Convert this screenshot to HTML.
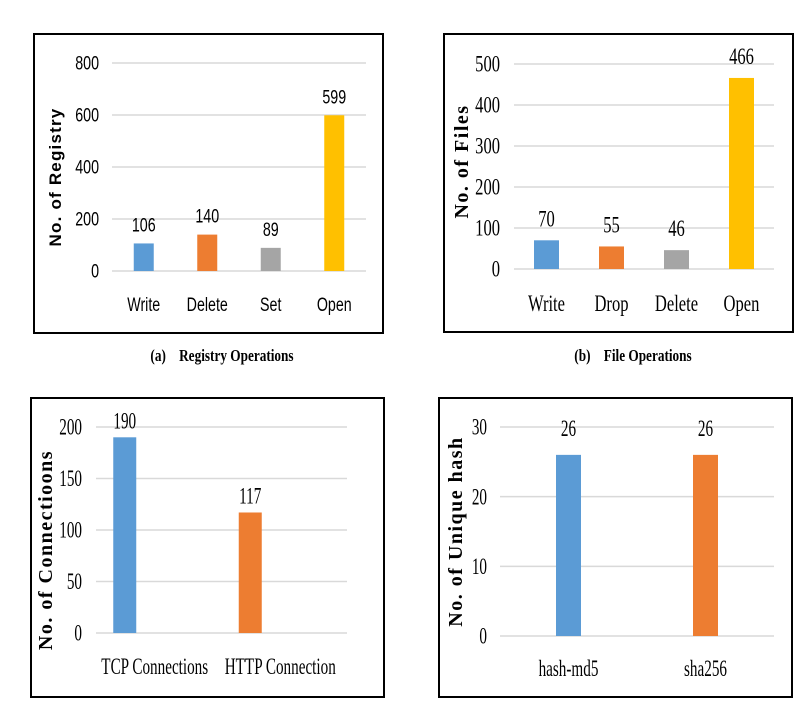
<!DOCTYPE html>
<html><head><meta charset="utf-8"><style>
html,body{margin:0;padding:0;background:#fff;}
svg{display:block;}
</style></head><body>
<svg id="root" width="802" height="705" viewBox="0 0 802 705" xmlns="http://www.w3.org/2000/svg">
<rect x="34" y="34" width="349" height="299" fill="#fff" stroke="#000" stroke-width="2"/>
<rect x="444" y="34" width="349" height="298" fill="#fff" stroke="#000" stroke-width="2"/>
<rect x="31" y="398" width="353" height="299" fill="#fff" stroke="#000" stroke-width="2"/>
<rect x="439" y="398" width="353" height="299" fill="#fff" stroke="#000" stroke-width="2"/>
<text x="222" y="361" text-anchor="middle" font-family="Liberation Serif, serif" font-weight="bold" font-size="17" transform="translate(222,0) scale(0.78,1) translate(-222,0)">(a)&#160;&#160;&#160; Registry Operations</text>
<text x="633" y="361" text-anchor="middle" font-family="Liberation Serif, serif" font-weight="bold" font-size="17" transform="translate(633,0) scale(0.78,1) translate(-633,0)">(b)&#160;&#160;&#160; File Operations</text>
</svg>
<script>
const regCats = ["Write","Delete","Set","Open"];
const regVals = [106,140,89,599];
const regTicks = [0,200,400,600,800];
const fileCats = ["Write","Drop","Delete","Open"];
const fileVals = [70,55,46,466];
const fileTicks = [0,100,200,300,400,500];
const connCats = ["TCP Connections","HTTP Connection"];
const connVals = [190,117];
const connTicks = [0,50,100,150,200];
const hashCats = ["hash-md5","sha256"];
const hashVals = [26,26];
const hashTicks = [0,10,20,30];

const NS="http://www.w3.org/2000/svg";
const root=document.getElementById('root');
function mk(tag,attrs,parent){const e=document.createElementNS(NS,tag);for(const k in attrs)e.setAttribute(k,attrs[k]);(parent||root).appendChild(e);return e;}

function drawChart(cfg,cats,vals,ticks){
  const g=mk('g',{});
  
  
  const max=ticks[ticks.length-1];
  const y=v=>cfg.y0-(v/max)*(cfg.y0-cfg.yTop);
  const bandW=(cfg.x1-cfg.x0)/cats.length;
  const xc=i=>cfg.x0+bandW*(i+0.5)+(cfg.shift||0);
  ticks.forEach(t=>{
    const l=mk('line',{x1:cfg.x0,x2:cfg.x1,y1:y(t),y2:y(t),stroke:'#d9d9d9','stroke-width':1.5},g);
    
    
    const tx=mk('text',{x:cfg.tickX,y:y(t)+cfg.fs*0.33,'text-anchor':'end','font-family':cfg.font,'font-size':cfg.fs,transform:`translate(${cfg.tickX},0) scale(${cfg.sx},1) translate(${-cfg.tickX},0)`},g);
    tx.textContent=t;
    
    
  });
  vals.forEach((v,i)=>{
    const cx=xc(i);
    const r=mk('rect',{x:cx-cfg.bw/2,y:y(v),width:cfg.bw,height:y(0)-y(v),fill:cfg.colors[i]},g);
    
    
    const vl=mk('text',{x:cx,y:y(v)-cfg.vOff,'text-anchor':'middle','font-family':cfg.font,'font-size':cfg.fs,transform:`translate(${cx},0) scale(${cfg.sx},1) translate(${-cx},0)`},g);
    vl.textContent=v;
    
    
    const lx=cx+(cfg.labShift||0);
    const cl=mk('text',{x:lx,y:cfg.labY,'text-anchor':'middle','font-family':cfg.font,'font-size':cfg.fs,transform:`translate(${lx},0) scale(${cfg.sx},1) translate(${-lx},0)`},g);
    cl.textContent=cats[i];
    
    
  });
  const ty=(cfg.y0+cfg.yTop)/2+(cfg.titleDy||0);
  const tt=mk('text',{x:cfg.titleX,y:ty,'text-anchor':'middle','font-family':cfg.tfont,'font-weight':'bold','font-size':cfg.tfs,transform:`rotate(-90 ${cfg.titleX} ${ty})`,'letter-spacing':cfg.ls||0},g);
  tt.textContent=cfg.title;
  
  
}
const C=['#5b9bd5','#ed7d31','#a5a5a5','#ffc000'];
drawChart({name:'registry-chart',x0:112,x1:366,y0:271,yTop:63,tickX:99,bw:20,colors:C,font:'Liberation Sans, sans-serif',fs:19,sx:0.75,vOff:12,labY:311,title:'No. of Registry',titleX:61,tfont:'Liberation Sans, sans-serif',tfs:17,ls:1.2,titleDy:10},regCats,regVals,regTicks);
drawChart({name:'file-chart',x0:514,x1:774,y0:269,yTop:64,tickX:500,bw:25,colors:C,font:'Liberation Serif, serif',fs:23,sx:0.72,vOff:14,labY:311,title:'No. of Files',titleX:468,tfont:'Liberation Serif, serif',tfs:20,ls:1.5,titleDy:-5},fileCats,fileVals,fileTicks);
drawChart({name:'connection-chart',x0:96,x1:347,y0:633,yTop:427,tickX:82,bw:23,colors:['#5b9bd5','#ed7d31'],font:'Liberation Serif, serif',fs:23,sx:0.66,vOff:9,labY:674,shift:-34,labShift:30,title:'No. of Connectioons',titleX:52,tfont:'Liberation Serif, serif',tfs:20,ls:1.5,titleDy:20},connCats,connVals,connTicks);
drawChart({name:'hash-chart',x0:500,x1:774,y0:636,yTop:427,tickX:487,bw:25,colors:['#5b9bd5','#ed7d31'],font:'Liberation Serif, serif',fs:23,sx:0.66,vOff:19,labY:676,shift:0,title:'No. of Unique hash',titleX:462,tfont:'Liberation Serif, serif',tfs:20,ls:1.5,titleDy:0},hashCats,hashVals,hashTicks);
</script>
</body></html>
